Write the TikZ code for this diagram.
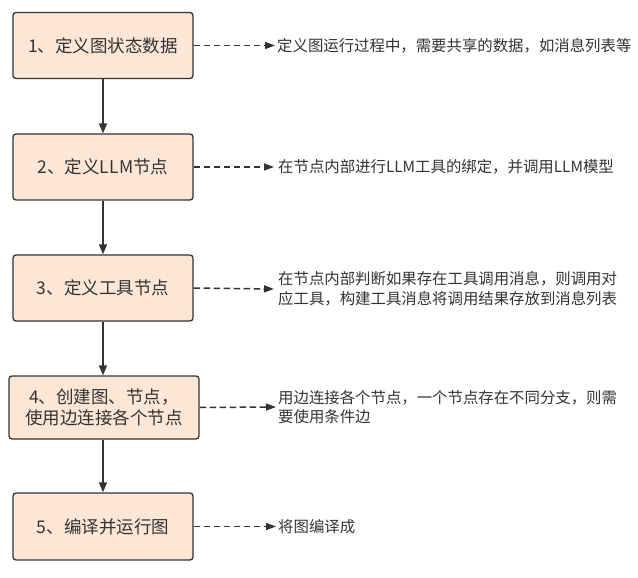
\documentclass[tikz,border=0pt]{standalone}
\usepackage{fontspec}
\setmainfont{Noto Sans CJK SC}
\usetikzlibrary{arrows.meta}
\definecolor{boxfill}{HTML}{FCE6D6}
\definecolor{ink}{HTML}{333333}
\begin{document}
\begin{tikzpicture}[x=1pt,y=-1pt,
  stepbox/.style={draw=ink,fill=boxfill,line width=1.3pt,rounded corners=3pt,
    minimum width=180pt,minimum height=66pt,inner sep=0pt,text=ink,
    font=\fontsize{17.5}{21}\selectfont,align=center},
  note/.style={anchor=west,inner xsep=2pt,inner ysep=0pt,text=ink,align=left,
    font=\fontsize{15.4}{19.5}\selectfont},
  flow/.style={draw=ink,line width=1.4pt,-{Triangle[length=10pt,width=8pt]}},
  link/.style={draw=ink,line width=1.5pt,dash pattern=on 6.5pt off 3.5pt,-{Triangle[length=10pt,width=7pt]}}]
\useasboundingbox (0,0) rectangle (638,578);
\node[stepbox] (b1) at (103,45.5) {1、定义图状态数据};
\node[stepbox] (b2) at (103,167) {2、定义LLM节点};
\node[stepbox] (b3) at (103,288) {3、定义工具节点};
\node[stepbox,minimum width=190pt,minimum height=63pt] (b4) at (104,407.5) {4、创建图、节点，\\使用边连接各个节点};
\node[stepbox,minimum height=67pt] (b5) at (103,526.5) {5、编译并运行图};
\node[note] (t1) at (275,45.5) {定义图运行过程中，需要共享的数据，如消息列表等};
\node[note,inner xsep=4pt] (t2) at (274,167) {在节点内部进行LLM工具的绑定，并调用LLM模型};
\node[note,inner xsep=4pt] (t3) at (274,289) {在节点内部判断如果存在工具调用消息，则调用对\\应工具，构建工具消息将调用结果存放到消息列表};
\node[note] (t4) at (276,407) {用边连接各个节点，一个节点存在不同分支，则需\\要使用条件边};
\node[note] (t5) at (276,526.5) {将图编译成};
\draw[flow] (b1) -- (b2);
\draw[flow] (b2) -- (b3);
\draw[flow] (b3.south) -- (b3.south |- b4.north);
\draw[flow] (b4.south -| b5.north) -- (b5.north);
\draw[link] (b1.east) -- (t1.west);
\draw[link] (b2.east) -- (t2.west);
\draw[link] (b3.east) -- (t3.west);
\draw[link] (b4.east) -- (t4.west);
\draw[link] (b5.east) -- (t5.west);
\end{tikzpicture}
\end{document}
